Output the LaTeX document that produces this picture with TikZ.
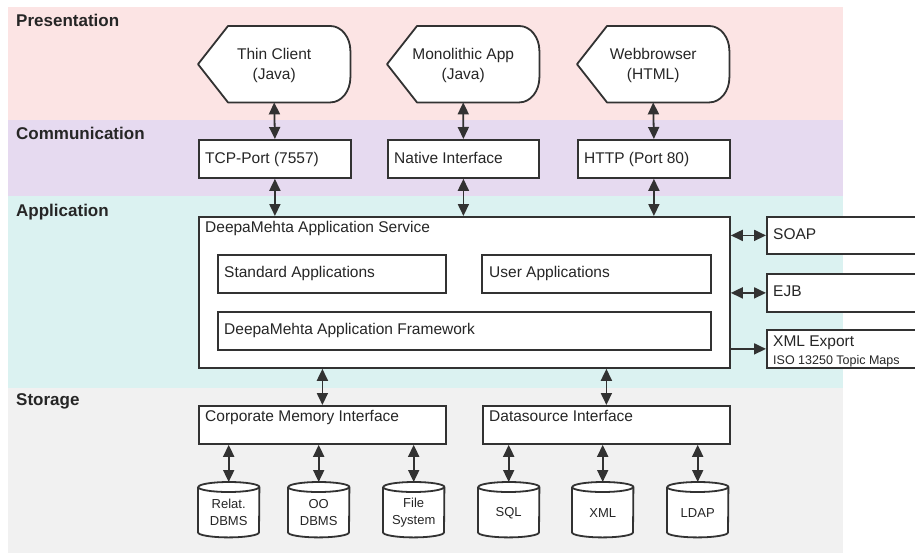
\documentclass[tikz,border=0pt]{standalone}
\usepackage{fontspec}
\setmainfont{Liberation Sans}
\usetikzlibrary{arrows.meta}
\definecolor{presc}{RGB}{252,228,228}
\definecolor{commc}{RGB}{230,218,240}
\definecolor{appc}{RGB}{219,242,241}
\definecolor{storc}{RGB}{241,241,241}
\definecolor{lc}{RGB}{50,50,50}
\tikzset{
  tipA/.tip={Triangle[length=12pt,width=11pt]}
}
\begin{document}
\begin{tikzpicture}[x=1pt,y=-1pt,
  outl/.style={draw=lc, line width=1.8pt, line join=round},
  box/.style={rectangle, draw=lc, line width=1.8pt, fill=white, inner sep=0pt, anchor=north west},
  inv/.style={rectangle, draw=none, inner sep=0pt, anchor=north west},
  txt/.style={inner sep=0pt, anchor=base west, text=black!85, font=\fontsize{15.5}{18}\selectfont},
  smalltxt/.style={inner sep=0pt, anchor=base west, text=black!85, font=\fontsize{12.5}{15}\selectfont},
  ctxt/.style={inner sep=0pt, align=center, text=black!85, font=\fontsize{15.5}{20}\selectfont},
  cyltxt/.style={inner sep=0pt, align=center, text=black!85, font=\fontsize{13}{17}\selectfont},
  layer/.style={inner sep=0pt, anchor=base west, font=\fontsize{17}{20}\selectfont\bfseries, text=black!85},
  dbl/.style={draw=lc, line width=1.8pt, tipA-tipA},
  sgl/.style={draw=lc, line width=1.8pt, -tipA}
]
\useasboundingbox (0,0) rectangle (915,554);
\clip (0,0) rectangle (915,554);
\fill[white] (0,0) rectangle (915,554);
% bands
\fill[presc] (8,7) rectangle (843,120);
\fill[commc] (8,120) rectangle (843,196);
\fill[appc] (8,196) rectangle (843,388);
\fill[storc] (8,388) rectangle (843,553);
\node[layer] (lpres) at (16,26) {Presentation};
\node[layer] (lcomm) at (16,139) {Communication};
\node[layer] (lapp) at (16,216) {Application};
\node[layer] (lstor) at (16,405) {Storage};

% presentation display shapes
\foreach \nm/\x/\ta/\tb in {thin/198/Thin Client/(Java), mono/387/Monolithic App/(Java), web/577/Webbrowser/(HTML)}{
  \node[inv, minimum width=152pt, minimum height=76pt] (\nm) at (\x,26) {};
  \draw[outl, fill=white] (\nm.west) -- ([xshift=30pt]\nm.north west) -- ([xshift=-20pt]\nm.north east)
     arc[start angle=90, end angle=0, x radius=20pt, y radius=25pt]
     -- ([yshift=25pt]\nm.south east)
     arc[start angle=0, end angle=-90, x radius=20pt, y radius=25pt]
     -- ([xshift=30pt]\nm.south west) -- cycle;
  \node[ctxt] (\nm t) at ([yshift=-1pt]\nm.center) {\ta\\\tb};
}

% communication boxes
\node[box, minimum width=152pt, minimum height=38pt] (tcp) at (198,139) {};
\node[txt] (tcpt) at (205,163.5) {TCP-Port (7557)};
\node[box, minimum width=151pt, minimum height=38pt] (nat) at (387,139) {};
\node[txt] (natt) at (394,163.5) {Native Interface};
\node[box, minimum width=152pt, minimum height=38pt] (http) at (577,139) {};
\node[txt] (httpt) at (584,163.5) {HTTP (Port 80)};

% application service
\node[box, minimum width=531pt, minimum height=151pt] (serv) at (198,216) {};
\node[txt] (servt) at (205,232.5) {DeepaMehta Application Service};
\node[box, minimum width=228pt, minimum height=38pt] (std) at (217,254) {};
\node[txt] (stdt) at (224,277.5) {Standard Applications};
\node[box, minimum width=229pt, minimum height=38pt] (usr) at (481,254) {};
\node[txt] (usrt) at (489,277.5) {User Applications};
\node[box, minimum width=493pt, minimum height=38pt] (fw) at (217,311) {};
\node[txt] (fwt) at (224,334) {DeepaMehta Application Framework};

% right boxes
\node[box, minimum width=170pt, minimum height=37pt] (soap) at (766,216) {};
\node[txt] (soapt) at (773,239.5) {SOAP};
\node[box, minimum width=170pt, minimum height=38pt] (ejb) at (766,273) {};
\node[txt] (ejbt) at (773,296) {EJB};
\node[box, minimum width=170pt, minimum height=38pt] (xmle) at (766,329) {};
\node[txt] (xmlet) at (773,346.5) {XML Export};
\node[smalltxt] (isot) at (773,364) {ISO 13250 Topic Maps};

% storage interfaces
\node[box, minimum width=247pt, minimum height=38pt] (cmi) at (198,405) {};
\node[txt] (cmit) at (205,421.5) {Corporate Memory Interface};
\node[box, minimum width=247pt, minimum height=38pt] (dsi) at (482,405) {};
\node[txt] (dsit) at (489,421.5) {Datasource Interface};

% cylinders
\foreach \nm/\x/\ta in {rdb/198/Relat.\\DBMS, oodb/288/OO\\DBMS, fs/383/File\\System, sql/478/SQL, xml/572/XML, ldap/667/LDAP}{
  \node[inv, minimum width=61pt, minimum height=55pt] (\nm) at (\x,482) {};
  \draw[outl, fill=white] ([yshift=-5pt]\nm.north west) -- ([yshift=5pt]\nm.south west)
     arc[start angle=180, end angle=360, x radius=30.5pt, y radius=5pt]
     -- ([yshift=-5pt]\nm.north east)
     arc[start angle=0, end angle=180, x radius=30.5pt, y radius=5pt] -- cycle;
  \draw[outl] ([yshift=-5pt]\nm.north west) arc[start angle=180, end angle=360, x radius=30.5pt, y radius=5pt];
  \node[cyltxt] (\nm t) at ([yshift=-3pt]\nm.center) {\ta};
}

% connectors
\draw[dbl] (thin.south) -- (tcp.north);
\draw[dbl] (mono.south) -- (nat.north);
\draw[dbl] (web.south) -- (http.north);
\draw[dbl] (tcp.south) -- (tcp.south |- serv.north);
\draw[dbl] (nat.south) -- (nat.south |- serv.north);
\draw[dbl] (http.south) -- (http.south |- serv.north);
\draw[dbl] (serv.east |- soap.west) -- (soap.west);
\draw[dbl] (serv.east |- ejb.west) -- (ejb.west);
\draw[sgl] (serv.east |- xmle.west) -- (xmle.west);
\draw[dbl] (cmi.north |- serv.south) -- (cmi.north);
\draw[dbl] (dsi.north |- serv.south) -- (dsi.north);
\draw[dbl] (rdb.north |- cmi.south) -- (rdb.north);
\draw[dbl] (oodb.north |- cmi.south) -- (oodb.north);
\draw[dbl] (fs.north |- cmi.south) -- (fs.north);
\draw[dbl] (sql.north |- dsi.south) -- (sql.north);
\draw[dbl] (xml.north |- dsi.south) -- (xml.north);
\draw[dbl] (ldap.north |- dsi.south) -- (ldap.north);
\end{tikzpicture}
\end{document}
